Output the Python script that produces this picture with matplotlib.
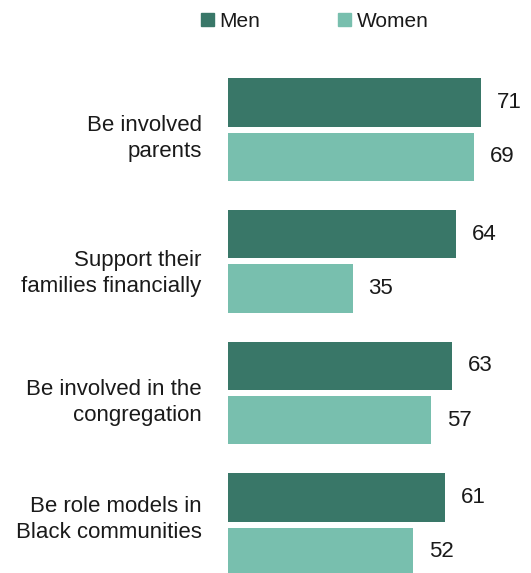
import matplotlib.pyplot as plt
import matplotlib.patches as mpatches
import numpy as np

plt.rcParams['font.family'] = ['Liberation Sans', 'DejaVu Sans']

# Share saying men / women in their congregation should do each
categories = [
    'Be involved\nparents',
    'Support their\nfamilies financially',
    'Be involved in the\ncongregation',
    'Be role models in\nBlack communities',
]
men = [71, 64, 63, 61]
women = [69, 35, 57, 52]

men_color = '#397768'
women_color = '#78bfae'
text_color = '#1a1a1a'

W, H = 531, 573
pitch = 131.7          # pixels between group centres
px_per_unit = 3.5625   # bar length scale

fig = plt.figure(figsize=(W / 100, H / 100), dpi=100)
ax = fig.add_axes([228 / W, 0, (W - 228) / W, 1])

y = np.arange(len(categories))
bar_h = 48.4 / pitch
shift = 27.2 / pitch

b1 = ax.barh(y - shift, men, height=bar_h, color=men_color)
b2 = ax.barh(y + shift, women, height=bar_h, color=women_color)
ax.bar_label(b1, padding=11.3, fontsize=16, color=text_color)
ax.bar_label(b2, padding=11.3, fontsize=16, color=text_color)

ax.set_xlim(0, (W - 228) / px_per_unit)
ax.set_ylim((H - 129.5) / pitch, -129.5 / pitch)
ax.axis('off')

# category labels sit a little off the group centre
label_nudge = [9, 12, 9.7, -5]
for yi, text, dy in zip(y, categories, label_nudge):
    ax.text(-26.3 / px_per_unit, yi + dy / pitch, text, ha='right', va='center',
            fontsize=16, linespacing=1.3, color=text_color)

handles = [mpatches.Patch(color=men_color, label='Men'),
           mpatches.Patch(color=women_color, label='Women')]
fig.legend(handles=handles, loc='center left', bbox_to_anchor=(201 / W, 1 - 21.5 / H),
           ncol=2, frameon=False, fontsize=15, handlelength=0.625, handleheight=0.625,
           handletextpad=0.24, columnspacing=3.77, borderpad=0, borderaxespad=0,
           labelcolor=text_color)

fig.savefig('out.png', dpi=100)
